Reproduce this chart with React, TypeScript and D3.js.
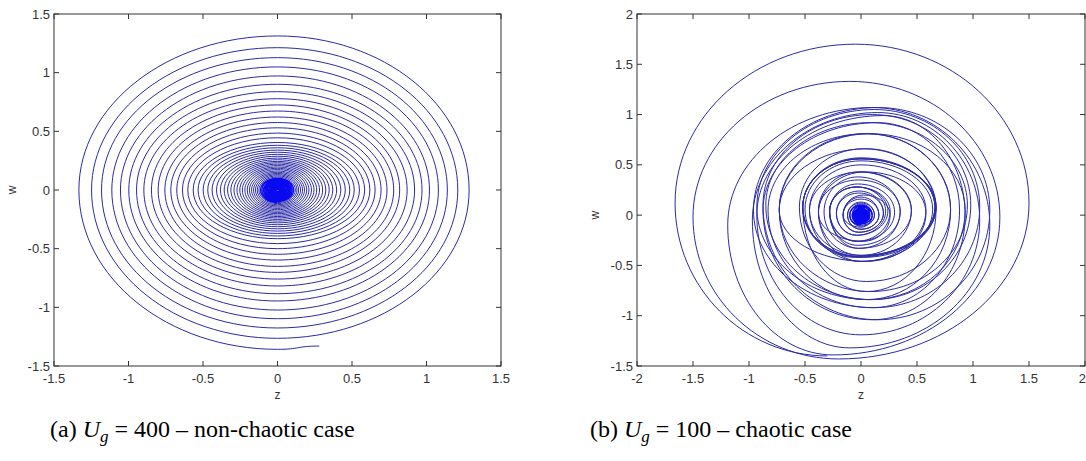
import React from "react";
import * as d3 from "d3";

// ---------- Data: (a) U_g = 400, non-chaotic spiral (per-turn axis crossings) ----------
const startPointA = { z: 0.28, w: -1.33 };
const turnBottomA = [-1.358, -1.264, -1.176, -1.097, -1.023, -0.946, -0.884, -0.818, -0.759, -0.702, -0.651, -0.597, -0.548, -0.5, -0.457, -0.415, -0.392, -0.37, -0.35, -0.331, -0.313, -0.296, -0.28, -0.265, -0.251, -0.238, -0.226, -0.214, -0.202, -0.191, -0.18, -0.168, -0.157, -0.146, -0.136, -0.126, -0.116, -0.107, -0.098, -0.089, -0.081, -0.073, -0.065, -0.057, -0.05, -0.042, -0.035, -0.028, -0.021, -0.015, -0.009];
const turnLeftA = [-1.333, -1.248, -1.181, -1.112, -1.054, -0.998, -0.946, -0.897, -0.846, -0.801, -0.756, -0.716, -0.676, -0.638, -0.602, -0.566, -0.533, -0.499, -0.468, -0.439, -0.409, -0.383, -0.358, -0.335, -0.313, -0.292, -0.272, -0.253, -0.236, -0.219, -0.203, -0.188, -0.174, -0.161, -0.148, -0.136, -0.125, -0.114, -0.104, -0.094, -0.085, -0.076, -0.067, -0.059, -0.051, -0.043, -0.036, -0.029, -0.022, -0.016, -0.01];
const turnTopA = [1.313, 1.213, 1.128, 1.049, 0.972, 0.901, 0.838, 0.778, 0.725, 0.673, 0.622, 0.575, 0.53, 0.485, 0.445, 0.405, 0.381, 0.36, 0.34, 0.322, 0.304, 0.288, 0.272, 0.258, 0.244, 0.232, 0.22, 0.208, 0.196, 0.185, 0.174, 0.162, 0.151, 0.141, 0.131, 0.121, 0.111, 0.102, 0.093, 0.085, 0.077, 0.069, 0.061, 0.053, 0.046, 0.039, 0.032, 0.025, 0.018, 0.012, 0.006];
const turnRightA = [1.286, 1.21, 1.14, 1.08, 1.02, 0.97, 0.92, 0.87, 0.82, 0.78, 0.735, 0.695, 0.655, 0.62, 0.585, 0.55, 0.515, 0.485, 0.455, 0.425, 0.397, 0.371, 0.347, 0.324, 0.303, 0.282, 0.263, 0.245, 0.228, 0.211, 0.196, 0.181, 0.168, 0.155, 0.142, 0.131, 0.12, 0.109, 0.099, 0.09, 0.081, 0.072, 0.063, 0.055, 0.047, 0.04, 0.033, 0.026, 0.019, 0.013, 0.008];

// ---------- Data: (b) U_g = 100, chaotic case (per-loop extremes) ----------
const startPointB = { z: -0.3, w: -1.4 };
const loopLeftB = [-1.66, -1.5, -1.19, -0.97, -0.93, -0.875, -0.83, -0.73, -0.52, -0.52, -0.5, -0.46, -0.38, -0.28, -0.28, -0.22, -0.16, -0.12, -0.1, -0.08, -0.07, -0.06, -0.05, -0.04, -0.06, -0.16, -0.38, -0.73, -0.93, -0.96, -0.875, -0.85, -0.73, -0.55, -0.52, -0.52, -0.46, -0.38, -0.33, -0.28, -0.28, -0.22, -0.16, -0.12, -0.1, -0.08, -0.07, -0.05, -0.04, -0.03, -0.02, -0.012, -0.006];
const loopTopB = [1.7, 1.33, 1.07, 1.02, 0.99, 0.92, 0.81, 0.66, 0.56, 0.56, 0.54, 0.43, 0.35, 0.28, 0.28, 0.22, 0.16, 0.12, 0.1, 0.09, 0.07, 0.06, 0.05, 0.04, 0.08, 0.2, 0.43, 0.81, 1.05, 1.07, 1.0, 0.92, 0.81, 0.66, 0.57, 0.56, 0.5, 0.43, 0.38, 0.31, 0.28, 0.24, 0.18, 0.13, 0.11, 0.09, 0.07, 0.05, 0.04, 0.03, 0.02, 0.012, 0.006];
const loopRightB = [1.5, 1.24, 1.15, 1.06, 0.93, 0.88, 0.8, 0.67, 0.66, 0.67, 0.64, 0.45, 0.35, 0.26, 0.22, 0.2, 0.16, 0.12, 0.1, 0.08, 0.07, 0.06, 0.05, 0.04, 0.1, 0.26, 0.58, 0.93, 1.06, 1.15, 0.98, 0.95, 0.8, 0.67, 0.66, 0.67, 0.58, 0.45, 0.35, 0.3, 0.24, 0.2, 0.16, 0.12, 0.1, 0.08, 0.06, 0.05, 0.04, 0.03, 0.02, 0.012, 0.006];
const loopBottomB = [-1.43, -1.39, -1.32, -1.19, -1.04, -0.92, -0.84, -0.76, -0.41, -0.42, -0.46, -0.4, -0.33, -0.26, -0.2, -0.17, -0.14, -0.11, -0.09, -0.08, -0.07, -0.06, -0.05, -0.04, -0.12, -0.26, -0.46, -0.84, -0.92, -1.04, -0.84, -0.76, -0.66, -0.42, -0.41, -0.4, -0.46, -0.33, -0.3, -0.26, -0.2, -0.17, -0.14, -0.1, -0.09, -0.07, -0.06, -0.05, -0.04, -0.03, -0.02, -0.012, -0.006];
const loopBottomZB = [-0.2, -0.25, -0.1, 0.0, 0.1, 0.1, 0.05, 0.05, -0.05, -0.05, 0.0, 0.0, -0.02, -0.04, -0.04, -0.02, 0.0, 0.0, 0.0, 0.0, 0.0, 0.0, 0.0, 0.0, 0.0, 0.02, 0.04, 0.08, 0.12, 0.15, 0.1, 0.08, 0.05, 0.02, 0.0, 0.0, 0.0, -0.02, -0.03, -0.03, -0.04, -0.02, 0.0, 0.0, 0.0, 0.0, 0.0, 0.0, 0.0, 0.0, 0.0, 0.0, 0.0];
const loopTopZB = [-0.05, -0.1, 0.1, 0.15, 0.2, 0.15, 0.05, 0.05, 0.0, 0.0, 0.0, 0.0, -0.02, -0.04, -0.04, -0.02, 0.0, 0.0, 0.0, 0.0, 0.0, 0.0, 0.0, 0.0, 0.0, 0.02, 0.04, 0.08, 0.12, 0.15, 0.1, 0.08, 0.05, 0.02, 0.0, 0.0, 0.0, -0.02, -0.03, -0.03, -0.04, -0.02, 0.0, 0.0, 0.0, 0.0, 0.0, 0.0, 0.0, 0.0, 0.0, 0.0, 0.0];
const loopSideWB = [0.12, -0.02, -0.1, -0.05, 0.0, 0.05, 0.05, 0.05, 0.08, 0.08, 0.06, 0.05, 0.04, 0.04, 0.04, 0.02, 0.0, 0.0, 0.0, 0.0, 0.0, 0.0, 0.0, 0.0, 0.0, 0.0, 0.02, 0.05, 0.08, 0.05, 0.1, 0.1, 0.06, 0.08, 0.08, 0.08, 0.05, 0.04, 0.03, 0.03, 0.04, 0.02, 0.0, 0.0, 0.0, 0.0, 0.0, 0.0, 0.0, 0.0, 0.0, 0.0, 0.0];

// ---------- Axes ticks ----------
const ticksA = [-1.5, -1, -0.5, 0, 0.5, 1, 1.5];
const ticksBx = [-2, -1.5, -1, -0.5, 0, 0.5, 1, 1.5, 2];
const ticksBy = [-1.5, -1, -0.5, 0, 0.5, 1, 1.5, 2];

const LINE = "#2b2ba6";
const CORE = "#0a0af0";
const AXIS = "#333";
const TICKFONT = "Liberation Sans, Arial, sans-serif";

// travel directions on screen (clockwise): left, up, right, down
type Dir = [number, number];
const GO_LEFT: Dir = [-1, 0];
const GO_UP: Dir = [0, -1];
const GO_RIGHT: Dir = [1, 0];
const GO_DOWN: Dir = [0, 1];
type Node = { z: number; w: number; dir: Dir };

function nodesA(): Node[] {
  const n: Node[] = [{ z: startPointA.z, w: startPointA.w, dir: GO_LEFT }];
  for (let i = 0; i < turnLeftA.length; i++) {
    n.push({ z: 0, w: turnBottomA[i], dir: GO_LEFT });
    n.push({ z: turnLeftA[i], w: 0, dir: GO_UP });
    n.push({ z: 0, w: turnTopA[i], dir: GO_RIGHT });
    n.push({ z: turnRightA[i], w: 0, dir: GO_DOWN });
  }
  return n;
}

function nodesB(): Node[] {
  const n: Node[] = [{ z: startPointB.z, w: startPointB.w, dir: GO_LEFT }];
  for (let i = 0; i < loopLeftB.length; i++) {
    n.push({ z: loopLeftB[i], w: loopSideWB[i], dir: GO_UP });
    n.push({ z: loopTopZB[i], w: loopTopB[i], dir: GO_RIGHT });
    n.push({ z: loopRightB[i], w: loopSideWB[i], dir: GO_DOWN });
    n.push({ z: loopBottomZB[i], w: loopBottomB[i], dir: GO_LEFT });
  }
  return n;
}

// smooth path through extreme points (tangent axis-aligned at each extreme),
// split into an outer part and a dense core part
function trajectoryPaths(
  nodes: Node[],
  xs: (v: number) => number,
  ys: (v: number) => number,
  core: number
): { outer: string; inner: string } {
  const outer = d3.path();
  const inner = d3.path();
  const K = 0.5523;
  const P = nodes.map((d) => [xs(d.z), ys(d.w)]);
  const isCore = (d: Node) => Math.max(Math.abs(d.z), Math.abs(d.w)) < core;
  for (let i = 1; i < nodes.length; i++) {
    const a = P[i - 1];
    const b = P[i];
    const ua = nodes[i - 1].dir;
    const ub = nodes[i].dir;
    const dx = b[0] - a[0];
    const dy = b[1] - a[1];
    const h1 = K * Math.abs(dx * ua[0] + dy * ua[1]);
    const h2 = K * Math.abs(dx * ub[0] + dy * ub[1]);
    const p = isCore(nodes[i - 1]) && isCore(nodes[i]) ? inner : outer;
    p.moveTo(a[0], a[1]);
    p.bezierCurveTo(a[0] + ua[0] * h1, a[1] + ua[1] * h1, b[0] - ub[0] * h2, b[1] - ub[1] * h2, b[0], b[1]);
  }
  return { outer: outer.toString(), inner: inner.toString() };
}

function Panel(props: {
  id: string;
  x0: number; x1: number; y0: number; y1: number;
  xDomain: [number, number]; yDomain: [number, number];
  xTicks: number[]; yTicks: number[];
  nodes: Node[];
  core: number;
}) {
  const { id, x0, x1, y0, y1, xDomain, yDomain, xTicks, yTicks, nodes, core } = props;
  const xs = d3.scaleLinear().domain(xDomain).range([x0, x1]);
  const ys = d3.scaleLinear().domain(yDomain).range([y1, y0]);
  const tl = 5;
  const paths = trajectoryPaths(nodes, xs, ys, core);
  return (
    <g>
      <defs>
        <clipPath id={"clip" + id}>
          <rect x={x0} y={y0} width={x1 - x0} height={y1 - y0} />
        </clipPath>
      </defs>
      <rect x={x0} y={y0} width={x1 - x0} height={y1 - y0} fill="#fff" />
      <g clipPath={`url(#clip${id})`} fill="none">
        <path d={paths.outer} stroke={LINE} strokeWidth={1} />
        <path d={paths.inner} stroke={CORE} strokeWidth={1.3} />
      </g>
      <rect x={x0} y={y0} width={x1 - x0} height={y1 - y0} fill="none" stroke={AXIS} strokeWidth={1} />
      {xTicks.map((t) => {
        const last = xs(t) >= 1080;
        return (
          <g key={"x" + t}>
            <line x1={xs(t)} x2={xs(t)} y1={y1} y2={y1 - tl} stroke={AXIS} />
            <line x1={xs(t)} x2={xs(t)} y1={y0} y2={y0 + tl} stroke={AXIS} />
            <text
              x={last ? 1086 : xs(t)}
              y={y1 + 17}
              textAnchor={last ? "end" : "middle"}
              fontFamily={TICKFONT}
              fontSize={13}
              fill="#333"
            >
              {String(t)}
            </text>
          </g>
        );
      })}
      {yTicks.map((t) => (
        <g key={"y" + t}>
          <line x1={x0} x2={x0 + tl} y1={ys(t)} y2={ys(t)} stroke={AXIS} />
          <line x1={x1} x2={x1 - tl} y1={ys(t)} y2={ys(t)} stroke={AXIS} />
          <text x={x0 - 4} y={ys(t) + 4.5} textAnchor="end" fontFamily={TICKFONT} fontSize={13} fill="#333">
            {String(t)}
          </text>
        </g>
      ))}
      <text x={xs(0)} y={y1 + 33} textAnchor="middle" fontFamily={TICKFONT} fontSize={12} fill="#333">z</text>
      <text
        transform={`translate(${x0 - 38},${ys(0)}) rotate(-90)`}
        textAnchor="middle"
        fontFamily={TICKFONT}
        fontSize={12}
        fill="#333"
      >
        w
      </text>
    </g>
  );
}

function Caption(props: { x: number; y: number; label: string; value: string; tail: string }) {
  const { x, y, label, value, tail } = props;
  return (
    <text x={x} y={y} fontFamily="Liberation Serif, Times New Roman, serif" fontSize={24} fill="#000">
      {label + " "}
      <tspan fontStyle="italic">U</tspan>
      <tspan fontStyle="italic" fontSize={17} dy={5}>g</tspan>
      <tspan dy={-5}>{" = " + value + " \u2013 " + tail}</tspan>
    </text>
  );
}

export default function App() {
  return (
    <svg
      width={1086}
      height={461}
      style={{ position: "absolute", left: 0, top: 0, background: "#fff" }}
    >
      <rect width={1086} height={461} fill="#fff" />
      <Panel
        id="a"
        x0={54} x1={501} y0={14} y1={366}
        xDomain={[-1.5, 1.5]} yDomain={[-1.5, 1.5]}
        xTicks={ticksA} yTicks={ticksA}
        nodes={nodesA()}
        core={0.12}
      />
      <Panel
        id="b"
        x0={637} x1={1085} y0={14} y1={366}
        xDomain={[-2, 2]} yDomain={[-1.5, 2]}
        xTicks={ticksBx} yTicks={ticksBy}
        nodes={nodesB()}
        core={0.11}
      />
      <Caption x={50} y={437} label="(a)" value="400" tail="non-chaotic case" />
      <Caption x={590} y={437} label="(b)" value="100" tail="chaotic case" />
    </svg>
  );
}
